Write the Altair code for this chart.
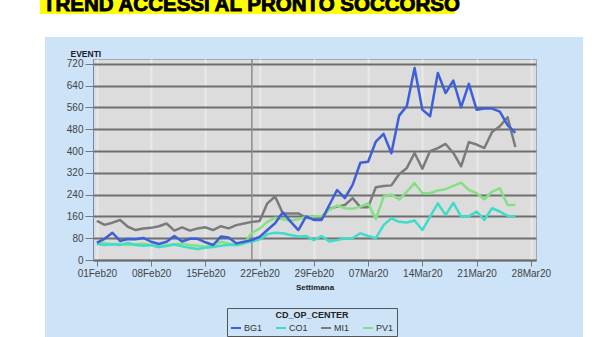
import altair as alt
import pandas as pd

# Daily emergency-room access counts per operations centre, 01 Feb - 26 Mar 2020
days = pd.date_range("2020-02-01", periods=55, freq="D").strftime("%Y-%m-%d").tolist()

bg1 = [64, 78, 100, 70, 77, 76, 81, 67, 59, 67, 88, 68, 78, 78, 65, 55, 86, 83, 61, 67,
       73, 85, 110, 135, 175, 141, 110, 160, 147, 147, 202, 257, 227, 276, 357, 361, 435, 463, 392, 530,
       565, 705, 552, 528, 687, 613, 659, 561, 647, 552, 556, 556, 545, 495, 467]
co1 = [59, 55, 58, 55, 63, 55, 52, 55, 48, 51, 57, 50, 45, 40, 45, 48, 52, 56, 55, 62,
       68, 75, 95, 100, 98, 92, 86, 88, 73, 88, 68, 73, 80, 80, 98, 88, 80, 128, 153, 140,
       138, 145, 110, 159, 208, 165, 210, 159, 160, 178, 147, 190, 178, 162, 160]
mi1 = [144, 129, 137, 147, 122, 110, 116, 118, 124, 134, 108, 120, 108, 116, 120, 110, 124, 116, 128, 134,
       140, 143, 208, 233, 171, 171, 171, 155, 153, 153, 188, 196, 202, 227, 194, 194, 267, 272, 274, 315,
       338, 393, 335, 400, 411, 426, 393, 344, 433, 424, 411, 470, 491, 524, 415]
pv1 = [60, 62, 58, 60, 55, 58, 60, 55, 48, 55, 58, 60, 55, 52, 49, 55, 67, 61, 55, 60,
       100, 115, 140, 155, 150, 145, 150, 158, 160, 162, 184, 200, 190, 188, 196, 208, 150, 233, 240, 222,
       251, 282, 246, 245, 255, 260, 272, 284, 257, 245, 223, 251, 263, 202, 202]

centers = ["BG1", "CO1", "MI1", "PV1"]
colors = ["#3d5fd9", "#3fdccb", "#7b7b7b", "#84e084"]
week_ticks = [(2, 1), (2, 8), (2, 15), (2, 22), (2, 29), (3, 7), (3, 14), (3, 21), (3, 28)]
y_ticks = list(range(0, 721, 80))
marker_day = ["2020-02-21"]
page_title = "TREND ACCESSI AL PRONTO SOCCORSO"

rows = []
# BG1 last so it is drawn on top of the other series
for name, vals in [("MI1", mi1), ("PV1", pv1), ("CO1", co1), ("BG1", bg1)]:
    for d, v in zip(days, vals):
        rows.append({"giorno": d, "eventi": v, "centro": name})
df = pd.DataFrame(rows)

W, H = 443, 201
FONT = "Liberation Sans"

x_scale = alt.Scale(
    type="utc",
    domain=[alt.DateTime(year=2020, month=1, date=31, hours=12, utc=True),
            alt.DateTime(year=2020, month=3, date=28, hours=16, utc=True)],
    nice=False,
)
y_scale = alt.Scale(domain=[0, 738], nice=False)

x_axis = alt.Axis(
    values=[alt.DateTime(year=2020, month=m, date=d, utc=True) for m, d in week_ticks],
    labelExpr="utcFormat(datum.value, '%d%b%y')", labelAngle=0,
    title="Settimana", titleFontSize=8, titleFontWeight="bold", titleColor="#222",
    titleY=27, titleBaseline="middle",
    labelFontSize=10, labelColor="#444", labelPadding=2, labelFont=FONT,
    tickColor="#777", tickSize=6, domainColor="#6a6a6a", domainWidth=1.5,
    grid=True, gridColor="#e9e9e9", gridWidth=2,
)
y_axis = alt.Axis(
    values=y_ticks, title="EVENTI", titleAngle=0, titleX=-23, titleY=-3,
    titleAlign="left", titleBaseline="alphabetic", titleFontSize=8.5,
    titleFontWeight="bold", titleColor="#1a1a2e",
    labelFontSize=10, labelColor="#444", labelPadding=2, labelFont=FONT,
    tickColor="#777", tickSize=8, domainColor="#6f86b8",
    grid=True, gridColor="#6f6f6f", gridWidth=2,
)

one = pd.DataFrame({"k": [0]})

# white page around the light-blue chart panel
page_top = alt.Chart(one).mark_rect(color="white").encode(
    x=alt.value(-93), x2=alt.value(507), y=alt.value(-59), y2=alt.value(-22))
page_left = alt.Chart(one).mark_rect(color="white").encode(
    x=alt.value(-93), x2=alt.value(-48), y=alt.value(-59), y2=alt.value(280))
page_right = alt.Chart(one).mark_rect(color="white").encode(
    x=alt.value(490), x2=alt.value(507), y=alt.value(-59), y2=alt.value(280))

highlight = alt.Chart(one).mark_rect(color="#ffff00").encode(
    x=alt.value(-53), x2=alt.value(362), y=alt.value(-59), y2=alt.value(-45))
heading = alt.Chart(one).mark_text(
    font=FONT, fontSize=20.5, fontWeight="bold", color="black",
    stroke="black", strokeWidth=0.9, align="left", baseline="alphabetic",
).encode(x=alt.value(-50), y=alt.value(-48), text=alt.value(page_title))

ref_line = alt.Chart(pd.DataFrame({"giorno": marker_day})).mark_rule(
    color="#8c8c8c", strokeWidth=1.5
).encode(x=alt.X("giorno:T", scale=x_scale, axis=x_axis))

lines = alt.Chart(df).mark_line(strokeWidth=2.5, strokeJoin="round").encode(
    x=alt.X("giorno:T", scale=x_scale, axis=x_axis),
    y=alt.Y("eventi:Q", scale=y_scale, axis=y_axis),
    color=alt.Color(
        "centro:N",
        scale=alt.Scale(domain=centers, range=colors),
        legend=alt.Legend(
            orient="none", legendX=134, legendY=249, direction="horizontal",
            title="CD_OP_CENTER", titleAnchor="middle", titleFontSize=9,
            titleFontWeight="bold", titleColor="#222", titlePadding=2,
            labelFontSize=9, labelColor="#333", labelFont=FONT, labelOffset=2,
            symbolType="stroke", symbolStrokeWidth=2, symbolSize=100,
            strokeColor="#555555", padding=3, columnPadding=9, gridAlign="none",
        ),
    ),
    order=alt.value(0),
)

chart = alt.layer(page_top, page_left, page_right, highlight, heading, ref_line, lines).properties(
    width=W, height=H,
    autosize=alt.AutoSizeParams(type="none"),
    padding={"left": 93, "top": 59, "right": 64, "bottom": 77},
).configure(
    background="#cde3f8",
    font=FONT,
).configure_view(
    fill="#dcdcdc", stroke="#a3a7ae", strokeWidth=1,
)

chart.save("out.html", embed_options={"renderer": "svg", "actions": False})
